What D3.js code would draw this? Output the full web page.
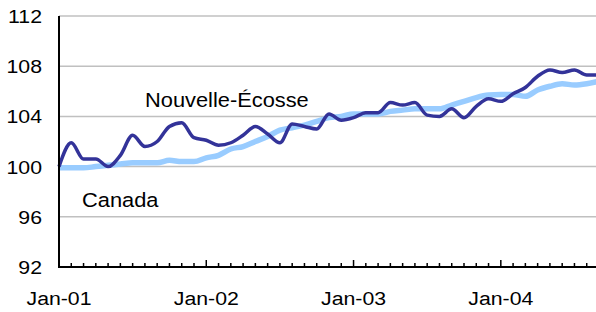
<!DOCTYPE html>
<html><head><meta charset="utf-8">
<script src="https://cdn.jsdelivr.net/npm/d3@7"></script>
<style>html,body{margin:0;padding:0;background:#fff;overflow:hidden}svg{display:block}</style>
</head><body>
<svg id="c" width="596" height="312"></svg>
<script>
const months = ["Jan-01","Feb-01","Mar-01","Apr-01","May-01","Jun-01","Jul-01","Aug-01","Sep-01","Oct-01","Nov-01","Dec-01",
"Jan-02","Feb-02","Mar-02","Apr-02","May-02","Jun-02","Jul-02","Aug-02","Sep-02","Oct-02","Nov-02","Dec-02",
"Jan-03","Feb-03","Mar-03","Apr-03","May-03","Jun-03","Jul-03","Aug-03","Sep-03","Oct-03","Nov-03","Dec-03",
"Jan-04","Feb-04","Mar-04","Apr-04","May-04","Jun-04","Jul-04","Aug-04","Sep-04"];
const novaScotia = [100.0,101.9,100.6,100.6,100.0,100.9,102.5,101.6,102.0,103.2,103.5,102.3,
102.1,101.7,101.9,102.5,103.2,102.6,101.9,103.4,103.2,103.0,104.2,103.7,
103.9,104.3,104.3,105.1,104.9,105.1,104.1,104.0,104.6,103.9,104.8,105.4,
105.2,105.8,106.3,107.2,107.7,107.5,107.7,107.3,107.3];
const canada = [99.9,99.9,99.9,100.0,100.1,100.2,100.3,100.3,100.3,100.5,100.4,100.4,
100.7,100.9,101.4,101.6,102.0,102.4,102.9,103.1,103.3,103.6,103.9,104.0,
104.2,104.2,104.2,104.4,104.5,104.6,104.6,104.6,104.9,105.2,105.5,105.7,
105.75,105.75,105.6,106.1,106.4,106.6,106.5,106.6,106.8];
const xTickLabels = ["Jan-01","Jan-02","Jan-03","Jan-04"];
const yTicks = [92,96,100,104,108,112];
const seriesNames = ["Nouvelle-Écosse","Canada"];

const svg = d3.select("#c");
const x = d3.scaleLinear().domain([0, months.length-1]).range([59, 599]);
const y = d3.scaleLinear().domain([92,112]).range([267,16]);
const FONT = "Liberation Sans, Arial, sans-serif";
const SX = 1.12;

// gridlines
svg.append("g").selectAll("line").data(yTicks.filter(v=>v>92)).join("line")
  .attr("x1",59).attr("x2",596).attr("y1",d=>y(d)).attr("y2",d=>y(d))
  .attr("stroke","#c0c0c0").attr("stroke-width",1.5);

// y labels
svg.append("g").selectAll("text").data(yTicks).join("text")
  .attr("transform",d=>`translate(42,${y(d)+7}) scale(${SX},1)`)
  .attr("text-anchor","end").attr("font-family",FONT).attr("font-size",19)
  .attr("fill","#000").text(d=>d);

// lines
const line = d3.line().x((d,i)=>x(i)).y(d=>y(d)).curve(d3.curveMonotoneX);
svg.append("path").datum(canada).attr("d",line).attr("fill","none")
  .attr("stroke","#99ccff").attr("stroke-width",5.5).attr("stroke-linejoin","round");
svg.append("path").datum(novaScotia).attr("d",line).attr("fill","none")
  .attr("stroke","#333399").attr("stroke-width",3.5).attr("stroke-linejoin","round");

// axes
svg.append("line").attr("x1",59).attr("x2",59).attr("y1",16).attr("y2",268)
  .attr("stroke","#000").attr("stroke-width",2);
svg.append("line").attr("x1",58).attr("x2",596).attr("y1",267).attr("y2",267)
  .attr("stroke","#000").attr("stroke-width",2);
svg.append("g").selectAll("line").data(months).join("line")
  .attr("x1",(d,i)=>x(i)).attr("x2",(d,i)=>x(i))
  .attr("y1",267).attr("y2",d=>xTickLabels.includes(d)?260:263)
  .attr("stroke","#000").attr("stroke-width",1.5);

// x labels
svg.append("g").selectAll("text").data(xTickLabels).join("text")
  .attr("transform",d=>`translate(${x(months.indexOf(d))},305) scale(${SX},1)`)
  .attr("text-anchor","middle").attr("font-family",FONT).attr("font-size",19)
  .attr("fill","#000").text(d=>d);

// series labels
svg.append("text").attr("transform",`translate(145,107) scale(${SX},1)`)
  .attr("font-family",FONT).attr("font-size",19.5).attr("fill","#000").text(seriesNames[0]);
svg.append("text").attr("transform",`translate(82,207) scale(${SX},1)`)
  .attr("font-family",FONT).attr("font-size",19.5).attr("fill","#000").text(seriesNames[1]);
</script>
</body></html>
